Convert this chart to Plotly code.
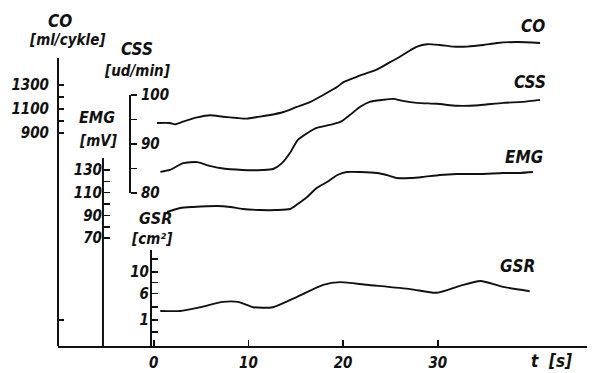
import plotly.graph_objects as go

# ---------------- data ----------------
co_t = [0.35, 1.7, 2.25, 3.1, 4.6, 5.95, 7.3, 8.8, 9.85, 10.9, 12.3, 13.7, 15.1, 16.5, 17.9,
        19.4, 20.0, 21.5, 23.6, 24.95, 26.0, 27.1, 27.8, 28.9, 30.2, 31.6, 33.1, 34.8, 36.25, 38.4, 40.8]
co_v = [983, 983, 972, 995, 1030, 1048, 1036, 1025, 1020, 1033, 1050, 1075, 1117, 1158, 1217,
        1285, 1322, 1370, 1430, 1490, 1535, 1590, 1620, 1640, 1633, 1620, 1620, 1633, 1650, 1658, 1650]

css_t = [0.7, 1.7, 3.1, 4.6, 5.6, 7.0, 9.4, 11.5, 12.6, 13.55, 14.4, 15.2, 16.2, 17.2, 18.6,
         19.7, 20.7, 21.8, 22.8, 24.2, 25.3, 26.3, 27.8, 29.9, 32.0, 33.4, 34.8, 36.9, 39.0, 40.8]
css_v = [84.3, 84.7, 86.1, 86.3, 85.7, 85.1, 84.7, 84.7, 84.9, 86.1, 88.2, 90.8, 92.2, 93.3, 93.9,
         94.5, 95.9, 97.6, 98.6, 99.0, 99.2, 98.8, 98.4, 98.2, 97.8, 97.8, 98.0, 98.4, 98.6, 99.0]

emg_t = [1.4, 2.8, 4.15, 6.7, 8.1, 9.4, 11.2, 13.0, 14.4, 15.2, 16.2, 17.2, 18.3, 19.4, 20.4,
         21.8, 23.6, 24.6, 25.7, 27.1, 28.4, 30.2, 32.0, 34.5, 36.9, 38.7, 40.05]
emg_v = [93.0, 96.5, 97.4, 98.3, 97.4, 95.6, 94.7, 94.7, 95.6, 100.0, 106.2, 114.1, 119.4, 125.6, 128.2,
         128.2, 127.4, 125.6, 122.9, 122.9, 123.8, 125.6, 126.5, 126.5, 127.4, 127.4, 128.2]

gsr_t = [0.7, 2.8, 4.9, 7.3, 8.9, 10.5, 12.6, 15.1, 17.9, 19.7, 22.5, 27.1, 29.9, 32.35, 34.5, 36.9, 39.7]
gsr_v = [2.7, 2.7, 3.4, 4.4, 4.4, 3.4, 3.4, 5.3, 7.6, 8.1, 7.6, 6.8, 6.1, 7.4, 8.3, 7.2, 6.4]

# axis ticks
t_ticks = [0, 10, 20, 30]
co_ticks = [1300, 1200, 1100, 1000, 900, -660]
co_labels = ["1300", "", "1100", "", "900", ""]
css_ticks = [100, 95, 90, 85, 80]
css_labels = ["100", "", "90", "", "80"]
emg_ticks = [130, 120, 110, 100, 90, 80, 70]
emg_labels = ["130", "", "110", "", "90", "", "70"]
gsr_ticks = [12.4, 10, 8, 6, 3.4, 1, -1.3]
gsr_labels = ["", "10", "", "6", "", "1", ""]

FONT = "DejaVu Sans Condensed, DejaVu Sans, sans-serif"
INK = "#111111"

fig = go.Figure()
line_style = dict(color=INK, width=1.9, shape="spline", smoothing=0.6)
fig.add_trace(go.Scatter(x=co_t, y=co_v, mode="lines", line=line_style, yaxis="y", name="CO"))
fig.add_trace(go.Scatter(x=css_t, y=css_v, mode="lines", line=line_style, yaxis="y2", name="CSS"))
fig.add_trace(go.Scatter(x=emg_t, y=emg_v, mode="lines", line=line_style, yaxis="y3", name="EMG"))
fig.add_trace(go.Scatter(x=gsr_t, y=gsr_v, mode="lines", line=line_style, yaxis="y4", name="GSR"))

tickfont = dict(family=FONT, size=15, color=INK, style="italic", weight="bold")
common = dict(showgrid=False, zeroline=False, showline=False, tickmode="array", automargin=False,
              tickcolor=INK, tickwidth=1.6, ticklen=6, tickfont=tickfont, fixedrange=True)

fig.update_layout(
    width=592, height=373,
    margin=dict(l=58, r=5, t=10, b=27, autoexpand=False),
    paper_bgcolor="white", plot_bgcolor="white",
    showlegend=False,
    xaxis=dict(range=[-10.106, 45.755], showgrid=False, zeroline=False, showline=True,
               linecolor=INK, linewidth=2, tickmode="array", tickvals=t_ticks, automargin=False,
               ticks="inside", ticklen=6, tickwidth=1.6, tickcolor=INK,
               tickfont=tickfont, ticklabelstandoff=2, fixedrange=True),
    yaxis=dict(range=[-875, 1925], tickvals=co_ticks, ticktext=co_labels, ticks="inside",
               side="left", ticklabelstandoff=8, **common),
    yaxis2=dict(range=[48.77, 117.35], tickvals=css_ticks, ticktext=css_labels, ticks="outside",
                overlaying="y", anchor="free", position=0.1361, side="right",
                ticklabelstandoff=1, **common),
    yaxis3=dict(range=[-25.2, 271.1], tickvals=emg_ticks, ticktext=emg_labels, ticks="inside",
                overlaying="y", anchor="free", position=0.085, side="left",
                ticklabelstandoff=1, **common),
    yaxis4=dict(range=[-3.875, 59.125], tickvals=gsr_ticks, ticktext=gsr_labels, ticks="inside",
                overlaying="y", anchor="free", position=0.1758, side="left",
                ticklabelstandoff=2, **common),
)

# axis lines (vertical extents of the hand-drawn scales)
axis_lines = [(0.0, 0.0, 0.857), (0.085, 0.0, 0.5595), (0.1361, 0.4554, 0.747), (0.1758, 0.0, 0.2857)]
for xp, y0, y1 in axis_lines:
    fig.add_shape(type="line", xref="paper", yref="paper", x0=xp, x1=xp, y0=y0, y1=y1,
                  line=dict(color=INK, width=2))


def px2paper(px, py):
    return (px - 58) / 529, (346 - py) / 336


texts = [
    ("CO", 60, 21, 17), ("[ml/cykle]", 67, 40, 15),
    ("CSS", 137, 49, 17), ("[ud/min]", 137, 71, 15),
    ("EMG", 97, 117, 16), ("[mV]", 98, 141, 15),
    ("GSR", 155, 218, 16), ("[cm²]", 152, 239, 15),
    ("CO", 533, 26, 17), ("CSS", 530, 82, 17), ("EMG", 524, 157, 17), ("GSR", 517, 266, 17),
    ("t  [s]", 551, 361, 17),
]
for txt, px, py, size in texts:
    xp, yp = px2paper(px, py)
    fig.add_annotation(text=txt, xref="paper", yref="paper", x=xp, y=yp, showarrow=False,
                       xanchor="center", yanchor="middle",
                       font=dict(family=FONT, size=size, color=INK, style="italic", weight="bold"))

fig.write_html("out.html", config={"displayModeBar": False, "staticPlot": True},
               post_script="document.body.style.margin='0';document.body.style.padding='0';")
